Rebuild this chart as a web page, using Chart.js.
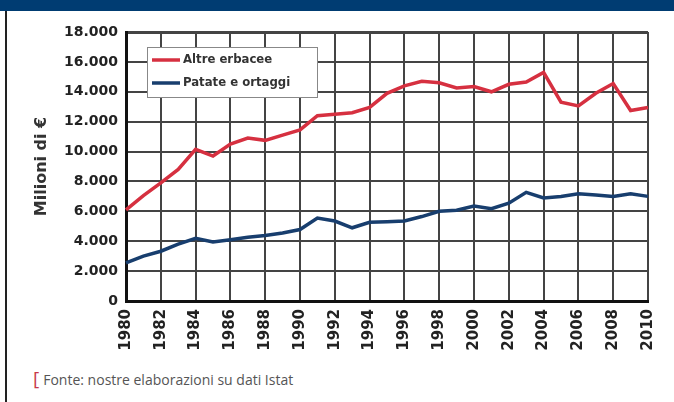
<!DOCTYPE html>
<html>
<head>
<meta charset="utf-8">
<script src="https://cdn.jsdelivr.net/npm/chart.js@4.4.1/dist/chart.umd.min.js"></script>
<style>
  html, body { margin: 0; padding: 0; background: #fff; }
  #wrap { position: relative; width: 674px; height: 402px; overflow: hidden; }
  #band { position: absolute; left: 0; top: 0; width: 674px; height: 11px; background: #003c72; }
  #edge { position: absolute; left: 5px; top: 11px; width: 2px; height: 391px; background: #222; }
  #box { position: absolute; left: 0; top: 0; width: 674px; height: 360px; }
  #source { position: absolute; left: 33px; top: 365px; font: 14px "Open Sans", sans-serif; color: #555; }
  #source span { color: #c8384a; font-size: 19px; margin-right: 4px; }
</style>
</head>
<body>
<div id="wrap">
  <div id="band"></div>
  <div id="edge"></div>
  <div id="box"><canvas id="Chart1"></canvas></div>
  <div id="source"><span>[</span>Fonte: nostre elaborazioni su dati Istat</div>
</div>
<script>
const years = ['1980', '1981', '1982', '1983', '1984', '1985', '1986', '1987', '1988', '1989',
    '1990', '1991', '1992', '1993', '1994', '1995', '1996', '1997', '1998', '1999',
    '2000', '2001', '2002', '2003', '2004', '2005', '2006', '2007', '2008', '2009', '2010'];
const altreErbacee = [6100, 7050, 7900, 8800, 10150, 9700, 10500, 10900, 10750, 11100,
    11450, 12400, 12500, 12600, 12950, 13900, 14400, 14700, 14600, 14250,
    14350, 14000, 14500, 14650, 15300, 13300, 13050, 13900, 14550, 12750, 12950];
const patateOrtaggi = [2550, 3000, 3330, 3800, 4200, 3950, 4100, 4270, 4380, 4550,
    4780, 5550, 5350, 4900, 5270, 5300, 5350, 5650, 6000, 6070,
    6350, 6180, 6550, 7270, 6900, 7000, 7180, 7100, 7000, 7180, 7000];
const yTicks = [0, 2000, 4000, 6000, 8000, 10000, 12000, 14000, 16000, 18000];

const tickFont = { family: 'DejaVu Sans', size: 14, weight: 'bold' };

// legend drawn inside the plot, top-left
const boxLegend = {
    id: 'boxLegend',
    afterDraw(chart) {
        const c = chart.ctx;
        const a = chart.chartArea;
        const x = a.left + 21, y = a.top + 15;
        c.save();
        c.fillStyle = '#fff';
        c.fillRect(x, y, 170, 50);
        c.strokeStyle = '#888';
        c.lineWidth = 1;
        c.strokeRect(x + 0.5, y + 0.5, 170, 50);
        c.font = 'bold 13px "DejaVu Sans Condensed"';
        c.textBaseline = 'middle';
        chart.data.datasets.forEach((ds, i) => {
            const ly = y + 13 + i * 23;
            c.strokeStyle = ds.borderColor;
            c.lineWidth = 3.5;
            c.beginPath();
            c.moveTo(x + 5, ly);
            c.lineTo(x + 33, ly);
            c.stroke();
            c.fillStyle = '#333';
            c.fillText(ds.label, x + 36, ly);
        });
        c.restore();
    }
};

const ctx1 = document.getElementById('Chart1').getContext('2d');

new Chart(ctx1, {
    type: 'line',
    data: {
        labels: years,
        datasets: [{
            label: 'Altre erbacee',
            data: altreErbacee,
            borderWidth: 3.5,
            borderColor: 'rgb(214, 48, 64)',
            backgroundColor: 'rgb(214, 48, 64)',
            pointRadius: 0,
            tension: 0
        }, {
            label: 'Patate e ortaggi',
            data: patateOrtaggi,
            borderWidth: 3.5,
            borderColor: 'rgb(24, 62, 110)',
            backgroundColor: 'rgb(24, 62, 110)',
            pointRadius: 0,
            tension: 0
        }]
    },
    options: {
        responsive: true,
        maintainAspectRatio: false,
        animation: false,
        layout: { padding: { left: 0, right: 17, top: 32, bottom: 0 } },
        plugins: {
            legend: { display: false },
            tooltip: { enabled: false }
        },
        scales: {
            x: {
                offset: false,
                afterFit: s => { s.height = 59; },
                border: { color: '#111', width: 3 },
                grid: {
                    drawTicks: false,
                    color: '#444',
                    lineWidth: c => (c.index === years.length - 1 ? 3 : 2)
                },
                ticks: {
                    autoSkip: false,
                    maxRotation: 90,
                    minRotation: 90,
                    padding: 8,
                    color: '#222',
                    font: { family: 'DejaVu Sans', size: 15, weight: 'bold' },
                    callback: (v, i) => (i % 2 === 0 ? years[i] : null)
                }
            },
            y: {
                min: 0,
                max: 18000,
                afterFit: s => { s.width = 126; },
                afterBuildTicks: s => { s.ticks = yTicks.map(v => ({ value: v })); },
                border: { color: '#111', width: 3 },
                grid: {
                    drawTicks: false,
                    color: '#444',
                    lineWidth: c => (c.tick && c.tick.value === 18000 ? 3 : 2)
                },
                title: {
                    display: true,
                    text: 'Milioni di €',
                    color: '#333',
                    font: { family: 'DejaVu Sans', size: 16, weight: 'bold' },
                    padding: { top: 32, bottom: 0 }
                },
                ticks: {
                    padding: 8,
                    color: '#222',
                    font: tickFont,
                    callback: v => String(v).replace(/\B(?=(\d{3})+(?!\d))/g, '.')
                }
            }
        }
    },
    plugins: [boxLegend]
});
</script>
</body>
</html>
